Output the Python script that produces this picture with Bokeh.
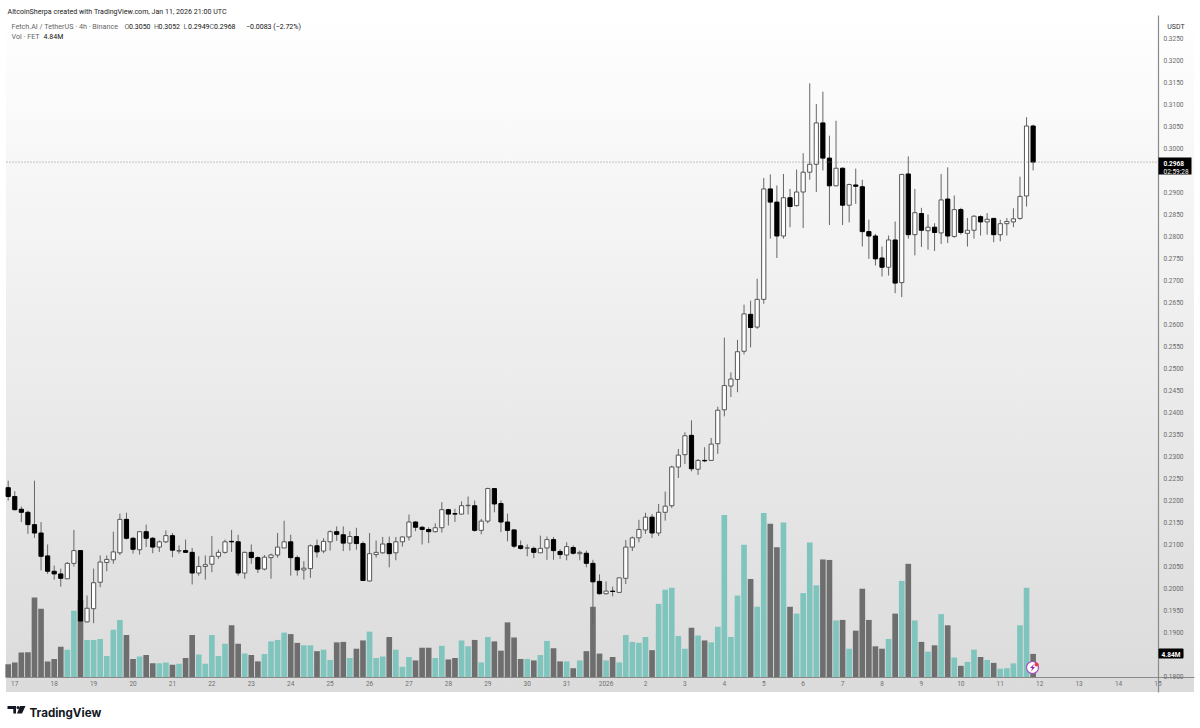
from bokeh.embed import file_html
from bokeh.resources import INLINE
from bokeh.plotting import figure
from bokeh.models import (ColumnDataSource, Range1d, LinearAxis, FixedTicker, Label,
                          BoxAnnotation, PolyAnnotation, NumeralTickFormatter)

# Prices in units of 0.0001 USDT, 4h candles, first candle Dec 16 20:00
opens = [2228,2208,2179,2172,2144,2125,2073,2038,2032,2021,
         2056,2085,1923,1953,2013,2058,2064,2080,2156,2113,
         2087,2128,2113,2093,2105,2119,2084,2085,2081,2034,
         2049,2054,2072,2081,2106,2105,2034,2081,2069,2043,
         2069,2075,2091,2105,2069,2041,2044,2096,2084,2105,
         2128,2121,2102,2117,2101,2016,2076,2080,2101,2080,
         2105,2116,2150,2138,2133,2128,2137,2178,2169,2168,
         2187,2187,2131,2152,2226,2192,2150,2132,2096,2091,
         2090,2080,2091,2110,2083,2075,2092,2078,2079,2056,
         2015,1987,1993,1990,2022,2093,2114,2132,2161,2125,
         2172,2187,2275,2303,2347,2270,2290,2290,2328,2405,
         2459,2474,2538,2622,2593,2656,2907,2877,2800,2887,
         2869,2900,2945,2963,3057,2977,2914,2954,2870,2916,
         2912,2810,2800,2750,2729,2791,2694,2941,2803,2851,
         2812,2820,2807,2884,2799,2860,2806,2813,2844,2832,
         2840,2803,2828,2832,2840,2891,3050]
closes = [2208,2178,2172,2144,2125,2072,2038,2032,2022,2056,
          2085,1925,1954,2012,2059,2065,2082,2156,2113,2088,
          2128,2113,2093,2105,2119,2086,2085,2081,2034,2049,
          2053,2072,2081,2105,2105,2034,2081,2069,2043,2070,
          2075,2093,2105,2069,2041,2045,2096,2082,2106,2128,
          2122,2102,2117,2101,2017,2078,2081,2100,2078,2105,
          2116,2150,2138,2133,2128,2137,2178,2168,2168,2187,
          2188,2131,2152,2226,2191,2150,2131,2095,2090,2091,
          2081,2090,2110,2085,2076,2094,2079,2081,2056,2014,
          1987,1993,1992,2023,2093,2114,2133,2161,2125,2172,
          2186,2275,2302,2346,2271,2290,2289,2327,2404,2460,
          2475,2537,2623,2592,2656,2907,2877,2800,2887,2867,
          2900,2945,2963,3057,2977,2914,2954,2870,2917,2913,
          2810,2800,2748,2729,2791,2693,2940,2803,2853,2813,
          2820,2808,2882,2800,2860,2808,2813,2845,2832,2838,
          2803,2828,2833,2839,2890,3050,2968]
highs = [2244,2220,2185,2176,2244,2150,2099,2051,2044,2059,
         2132,2085,1983,2044,2074,2074,2128,2169,2171,2116,
         2128,2144,2116,2108,2131,2125,2097,2110,2091,2072,
         2074,2118,2087,2110,2132,2121,2083,2099,2072,2075,
         2078,2125,2153,2121,2074,2061,2099,2110,2113,2131,
         2140,2140,2129,2137,2106,2125,2108,2116,2117,2116,
         2117,2167,2152,2141,2138,2147,2195,2180,2180,2197,
         2208,2199,2157,2228,2226,2199,2169,2133,2108,2099,
         2094,2119,2117,2116,2088,2104,2097,2085,2085,2064,
         2031,2015,2003,2023,2109,2117,2155,2171,2168,2191,
         2219,2278,2316,2354,2381,2293,2320,2341,2412,2569,
         2490,2564,2644,2653,2703,2932,2940,2915,2941,2907,
         2951,2988,3147,3100,3128,3028,3062,2956,2919,2953,
         2928,2837,2805,2776,2801,2833,2941,2981,2907,2864,
         2849,2829,2941,2956,2892,2864,2841,2847,2847,2852,
         2841,2837,2841,2863,2935,3070,3053]
lows = [2199,2176,2150,2123,2114,2040,2032,2019,2003,2021,
        2049,1922,1922,1920,2002,2038,2055,2075,2110,2078,
        2076,2093,2079,2082,2102,2070,2078,2080,2008,2028,
        2019,2036,2066,2078,2082,2028,2021,2055,2034,2040,
        2021,2069,2091,2028,2028,2019,2023,2069,2079,2085,
        2107,2084,2085,2087,2016,2015,2069,2078,2047,2063,
        2094,2108,2129,2099,2102,2126,2126,2142,2150,2167,
        2167,2128,2122,2147,2172,2127,2106,2091,2087,2072,
        2068,2080,2064,2064,2066,2063,2076,2063,2047,1920,
        1985,1985,1981,1990,2009,2084,2104,2123,2114,2118,
        2153,2182,2250,2282,2265,2257,2286,2290,2305,2390,
        2434,2445,2531,2547,2589,2646,2794,2750,2794,2820,
        2867,2818,2928,2900,2949,2825,2913,2825,2831,2873,
        2776,2748,2733,2708,2710,2670,2661,2794,2756,2775,
        2769,2766,2782,2784,2796,2803,2776,2794,2801,2803,
        2786,2788,2801,2820,2837,2867,2949]
# Volume in millions of FET
volumes = [2.7,3.1,5.1,5.2,16.4,14.1,3.3,3.8,6.3,5.7,
           13.7,15.9,7.7,7.7,7.9,4.4,9.8,11.8,8.7,3.8,
           4.3,4.6,2.9,2.9,3.1,2.6,2.8,4.0,8.7,4.7,
           2.8,8.7,4.4,6.9,10.7,6.9,4.9,4.6,3.3,4.8,
           7.4,7.7,9.2,8.9,7.1,6.6,6.6,5.4,5.7,3.6,
           7.2,7.3,4.0,5.9,7.6,9.4,4.0,4.3,8.3,5.7,
           2.2,4.2,3.5,6.1,6.1,4.0,6.5,3.7,4.0,7.6,
           6.4,7.7,3.1,8.3,7.4,5.5,11.3,8.2,3.8,3.8,
           3.5,4.6,7.5,6.0,3.3,3.3,1.9,3.5,5.4,14.5,
           4.9,3.5,4.2,3.1,8.7,7.3,7.1,8.3,5.6,15.1,
           18.0,18.4,8.5,5.9,10.2,8.6,7.6,7.2,10.4,33.3,
           8.3,16.8,27.2,20.2,14.5,33.7,31.5,26.7,31.8,14.5,
           13.1,17.3,27.7,18.9,24.2,24.1,11.7,11.8,5.9,9.6,
           18.2,11.8,6.4,5.9,7.9,13.1,19.8,23.3,11.7,7.3,
           5.3,6.6,13.0,10.7,4.1,2.4,3.2,5.7,4.2,3.6,
           3.0,1.8,1.9,2.9,10.7,18.4,4.84]
day_labels = ["17","18","19","20","21","22","23","24","25","26","27","28","29","30","31",
              "2026","2","3","4","5","6","7","8","9","10","11","12","13","14","15"]
price_ticks = [0.18 + 0.005 * i for i in range(30)]
last_price_text = "0.2968"
countdown_text = "02:59:28"
last_volume_text = "4.84M"
candles_per_day = 6

UP_VOL, DOWN_VOL = "#80c5bd", "#6e6e6e"

idx = list(range(len(opens)))
scale = 1e-4
src = ColumnDataSource(dict(
    x=idx,
    o=[v * scale for v in opens], c=[v * scale for v in closes],
    h=[v * scale for v in highs], l=[v * scale for v in lows],
    top=[max(a, b) * scale for a, b in zip(opens, closes)],
    bottom=[min(a, b) * scale for a, b in zip(opens, closes)],
    fill=["#ffffff" if c >= o else "#000000" for o, c in zip(opens, closes)],
    edge=["#555555" if c >= o else "#000000" for o, c in zip(opens, closes)],
    vol=volumes,
    volc=[UP_VOL if c >= o else DOWN_VOL for o, c in zip(opens, closes)],
))

W, H = 1200, 728
PX_PER_CANDLE = 6.57
PX_PER_PRICE = 4400.0
PX_PER_MVOL = 4.878
L, R, T, B = 6, 1158, 15, 677   # pane edges in canvas pixels


def x_at(px):
    return (px - 7.7) / PX_PER_CANDLE


def price_at(py):
    return 0.3 - (py - 147.5) / PX_PER_PRICE


# The frame fills the whole canvas so that everything outside the pane can be drawn too
p = figure(width=W, height=H, x_range=Range1d(x_at(0), x_at(W)),
           y_range=Range1d(price_at(H), price_at(0)), output_backend="svg",
           toolbar_location=None, min_border=0, x_axis_location=None, y_axis_location=None,
           background_fill_alpha=0, border_fill_alpha=0)
p.outline_line_color = None
p.grid.visible = False
p.styles = {
    "position": "absolute", "left": "0", "top": "0",
    "background-image": "linear-gradient(to bottom, #ffffff, #dbdbdb)",
    "background-repeat": "no-repeat",
    "background-position": "6px 15px",
    "background-size": "1188px 677px",
}
p.extra_y_ranges = {"vol": Range1d(-(H - B) / PX_PER_MVOL, B / PX_PER_MVOL)}

FONT = "Roboto"
ax = LinearAxis(ticker=FixedTicker(ticks=[1 + candles_per_day * i for i in range(len(day_labels))]),
                fixed_location=price_at(B - 0.5), bounds=(x_at(L), x_at(1194)))
ax.major_label_overrides = {1 + candles_per_day * i: s for i, s in enumerate(day_labels)}
ax.major_tick_line_color = None
ax.minor_tick_line_color = None
ax.major_tick_out = 0
ax.major_tick_in = 0
ax.axis_line_color = "#8a8a8a"
ax.axis_line_width = 1
ax.major_label_text_font = FONT
ax.major_label_text_font_size = "6.5px"
ax.major_label_text_color = "#707070"
ax.major_label_standoff = 4
p.add_layout(ax, "below")

ay = LinearAxis(ticker=FixedTicker(ticks=price_ticks), formatter=NumeralTickFormatter(format="0.0000"),
                fixed_location=x_at(R), bounds=(price_at(692), price_at(T)))
ay.major_tick_line_color = None
ay.minor_tick_line_color = None
ay.major_tick_out = 0
ay.major_tick_in = 0
ay.axis_line_color = "#8a8a8a"
ay.axis_line_width = 1.2
ay.major_label_text_font = FONT
ay.major_label_text_font_size = "6.5px"
ay.major_label_text_color = "#6a6a6a"
ay.major_label_standoff = 5
p.add_layout(ay, "right")

# Volume below candles
p.vbar(x="x", top="vol", bottom=0, width=0.86, fill_color="volc", line_color=None,
       source=src, y_range_name="vol")
p.segment(x0="x", x1="x", y0="l", y1="h", line_color="#666666", line_width=1, source=src)
p.vbar(x="x", top="top", bottom="bottom", width=0.64, fill_color="fill", line_color="edge",
       line_width=1, source=src)

# Last-price dotted line across the pane
last_line = p.segment(x0=[x_at(L)], x1=[x_at(R)], y0=[closes[-1] * scale], y1=[closes[-1] * scale],
                      line_color="#8a8a8a", line_width=1)
last_line.glyph.line_dash = [1, 2]


def box(l, r, t, b, color, radius=0, line=None, lw=1):
    p.add_layout(BoxAnnotation(left=l, right=r, top=t, bottom=b, left_units="canvas",
                               right_units="canvas", top_units="canvas", bottom_units="canvas",
                               fill_color=color, fill_alpha=1, line_color=line, line_width=lw,
                               line_alpha=1, border_radius=radius, level="annotation"))


def text(x, y, s, size=7, color="#333333", bold=False, align="left", font=FONT):
    p.add_layout(Label(x=x, y=y + size * 0.36, x_units="canvas", y_units="canvas", text=s, text_font=font,
                       text_font_size=f"{size}px", text_color=color, text_align=align,
                       text_baseline="alphabetic", text_font_style="bold" if bold else "normal",
                       level="annotation"))


def poly(xs, ys, color):
    p.add_layout(PolyAnnotation(xs=xs, ys=ys, xs_units="canvas", ys_units="canvas",
                                fill_color=color, fill_alpha=1, line_color=None, level="annotation"))


# Price tag and unit box
box(1160, 1191, 17, 33, "#ffffff", radius=3)
text(1175.5, 24, "USDT", size=7, color="#333333", align="center")
box(R, 1191, 157, 174, "#000000")
text(1163, 161, last_price_text, size=6.5, color="#ffffff", bold=True)
text(1163, 169, countdown_text, size=6.5, color="#ffffff")
box(R, 1183, 648, 658, "#000000", radius=1)
text(1170.5, 652.5, last_volume_text, size=6.5, color="#ffffff", bold=True, align="center")

# Header
text(7, 8, "AltcoinSherpa created with TradingView.com, Jan 11, 2026 21:00 UTC", size=7.1, color="#222222")
text(11, 23.5, "Fetch.AI / TetherUS \u00b7 4h \u00b7 Binance", size=7.2, color="#666666")
for x, k, v in [(124, "O", "0.3050"), (153.5, "H", "0.3052"), (183, "L", "0.2949"), (209, "C", "0.2968")]:
    text(x, 23.5, k, size=7, color="#666666")
    text(x + 4.5, 23.5, v, size=7, color="#111111")
text(245.5, 23.5, "\u22120.0083 (\u22122.72%)", size=7, color="#111111")
text(11, 33.5, "Vol \u00b7 FET", size=7.2, color="#666666")
text(43, 33.5, "4.84M", size=7, color="#111111")

# Replay marker on the last volume bar
box(1026, 1038, 661, 673, "#ffffff", radius=6, line="#a64dc4", lw=1.2)
poly([1033.5, 1029.5, 1031.8, 1030.5, 1034.5, 1032.2], [663.5, 667.6, 667.6, 671, 666.4, 666.4], "#9226b0")
box(1034, 1038, 662, 666, "#f23645", radius=2)

# Footer logo
poly([7, 15.5, 15.5, 12.8, 12.8, 10, 10, 7], [705.5, 705.5, 713, 713, 708.5, 708.5, 708.5, 708.5], "#131722")
box(16, 19, 705.5, 708.5, "#131722", radius=2)
poly([19.5, 25, 21.5, 16.5], [705.5, 705.5, 713, 713], "#131722")
text(29, 708, "TradingView", size=11.6, color="#131722", bold=True, font="Inter")

open("out.html", "w").write(file_html(p, INLINE))
